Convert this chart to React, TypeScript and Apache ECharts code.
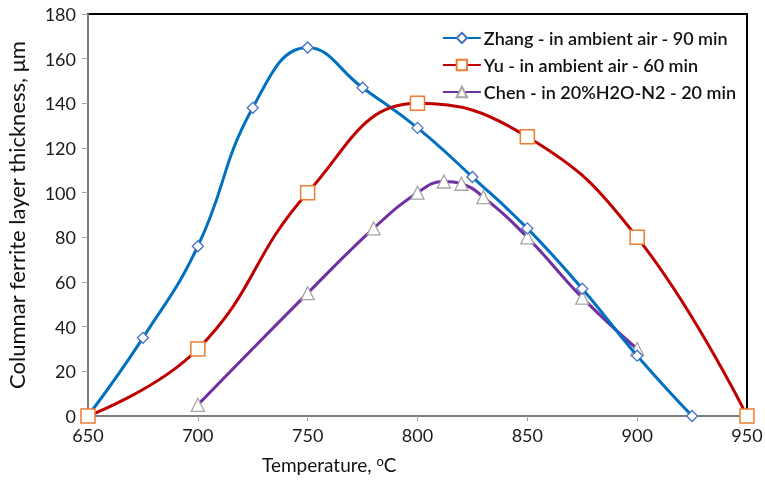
import React, { useEffect, useRef } from "react";
import * as echarts from "echarts";

const zhangX = [650, 675, 700, 725, 750, 775, 800, 825, 850, 875, 900, 925];
const zhangY = [0, 35, 76, 138, 165, 147, 129, 107, 84, 57, 27, 0];
const yuX = [650, 700, 750, 800, 850, 900, 950];
const yuY = [0, 30, 100, 140, 125, 80, 0];
const chenX = [700, 750, 780, 800, 812, 820, 830, 850, 875, 900];
const chenY = [5, 55, 84, 100, 105, 104, 98, 80, 53, 30];
const seriesNames = [
  "Zhang - in ambient air - 90 min",
  "Yu - in ambient air - 60 min",
  "Chen - in 20%H2O-N2 - 20 min",
];

const zip = (xs: number[], ys: number[]) => xs.map((x, i) => [x, ys[i]]);

export default function App() {
  const ref = useRef<HTMLDivElement>(null);
  useEffect(() => {
    const chart = echarts.init(ref.current!, null, { renderer: "svg" });
    const font = "Lato, 'Open Sans', sans-serif";
    chart.setOption({
      animation: false,
      textStyle: { fontFamily: font },
      grid: {
        left: 88,
        right: 18,
        top: 14,
        bottom: 76,
        show: true,
        borderColor: "#000",
        borderWidth: 2,
        outerBoundsMode: "none",
        containLabel: false,
      },
      legend: {
        orient: "vertical",
        right: 24,
        top: 24,
        itemWidth: 38,
        itemHeight: 13,
        itemGap: 9,
        textStyle: { fontSize: 18, fontWeight: 600, color: "#111", fontFamily: font, padding: [0, 0, 0, -2] },
        data: seriesNames,
      },
      xAxis: {
        type: "value",
        min: 650,
        max: 950,
        interval: 50,
        splitLine: { show: false },
        axisLine: { onZero: false, lineStyle: { color: "#A6A6A6", width: 1.5 } },
        axisTick: { show: true, length: 5, lineStyle: { color: "#A6A6A6" } },
        axisLabel: { fontSize: 18, color: "#1a1a1a", margin: 10, fontFamily: font },
      },
      yAxis: {
        type: "value",
        min: 0,
        max: 180,
        interval: 20,
        name: "Columnar ferrite layer thickness, μm",
        nameLocation: "middle",
        nameGap: 61,
        nameTextStyle: { fontSize: 22, color: "#111", fontFamily: font },
        splitLine: { show: false },
        axisLine: { show: true, lineStyle: { color: "#A6A6A6", width: 1.5 } },
        axisTick: { show: true, length: 6, lineStyle: { color: "#A6A6A6" } },
        axisLabel: { fontSize: 18, color: "#1a1a1a", margin: 12, fontFamily: font },
      },
      graphic: [
        {
          type: "text",
          left: 262,
          top: 454,
          style: {
            text: "Temperature, {sup|o}C",
            font: "19px " + font,
            fill: "#111",
            rich: {
              sup: { fontSize: 13, verticalAlign: "top", padding: [0, 0, 8, 0], fill: "#111", fontFamily: font },
            },
          },
        },
      ],
      series: [
        {
          name: seriesNames[0],
          type: "line",
          smooth: 0.45,
          data: zip(zhangX, zhangY),
          symbol: "diamond",
          symbolSize: 11,
          lineStyle: { color: "#0070C0", width: 3 },
          itemStyle: { color: "#fff", borderColor: "#4472C4", borderWidth: 1.3 },
          z: 3,
        },
        {
          name: seriesNames[1],
          type: "line",
          smooth: 0.45,
          data: zip(yuX, yuY),
          symbol: "rect",
          symbolSize: 14,
          lineStyle: { color: "#C00000", width: 3 },
          itemStyle: { color: "#fff", borderColor: "#ED7D31", borderWidth: 1.5 },
          z: 4,
        },
        {
          name: seriesNames[2],
          type: "line",
          smooth: 0.45,
          data: zip(chenX, chenY),
          symbol: "triangle",
          symbolSize: 13,
          lineStyle: { color: "#7030A0", width: 3 },
          itemStyle: { color: "#fff", borderColor: "#A5A5A5", borderWidth: 1.3 },
          z: 2,
        },
      ],
    });
    return () => chart.dispose();
  }, []);
  return <div ref={ref} style={{ position: "fixed", left: 0, top: 0, width: 765, height: 492 }} />;
}
